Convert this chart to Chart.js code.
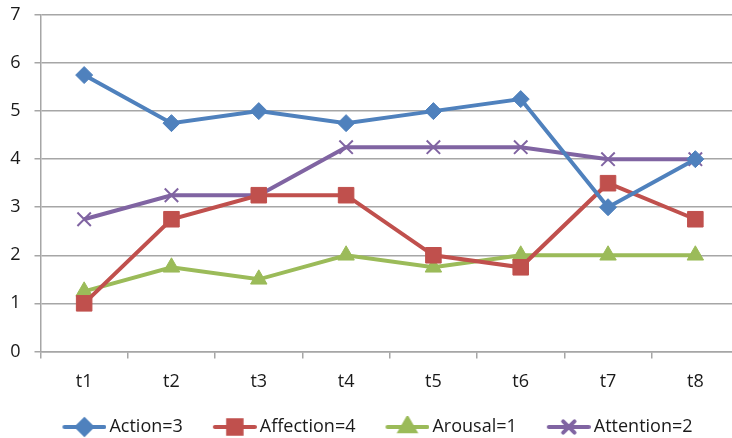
<!DOCTYPE html>
<html>
<head>
<meta charset="UTF-8">
<title>Chart</title>
<style>
  html, body { margin: 0; padding: 0; background: #fff; overflow: hidden; }
  #wrap { width: 751px; height: 438px; }
</style>
</head>
<body>
<div id="wrap"><canvas id="myChart"></canvas></div>
<script src="https://cdn.jsdelivr.net/npm/chart.js"></script>
<script>
const categories = ['t1', 't2', 't3', 't4', 't5', 't6', 't7', 't8']
const action = [5.75, 4.75, 5, 4.75, 5, 5.25, 3, 4]
const affection = [1, 2.75, 3.25, 3.25, 2, 1.75, 3.5, 2.75]
const arousal = [1.25, 1.75, 1.5, 2, 1.75, 2, 2, 2]
const attention = [2.75, 3.25, 3.25, 4.25, 4.25, 4.25, 4, 4]
const seriesNames = ['Action=3', 'Affection=4', 'Arousal=1', 'Attention=2']
const yTicks = [0, 1, 2, 3, 4, 5, 6, 7]

const colors = ['#4F81BD', '#C0504D', '#9BBB59', '#8064A2']
const styles = ['rectRot', 'rect', 'triangle', 'crossRot']
const radii = [8.5, 11, 9.5, 9.5]
const legendRadii = [7.5, 9.5, 8.5, 8]

// legend swatch: short line with the marker on it (left part left blank for spacing)
function swatch(i) {
  const c = document.createElement('canvas')
  c.width = 68; c.height = 22
  const g = c.getContext('2d')
  g.strokeStyle = colors[i]; g.lineWidth = 4; g.lineCap = 'round'
  g.beginPath(); g.moveTo(26, 11); g.lineTo(66, 11); g.stroke()
  g.fillStyle = colors[i]
  Chart.helpers.drawPoint(g, { pointStyle: styles[i], radius: legendRadii[i], borderWidth: 2 }, 46, 11)
  if (styles[i] !== 'crossRot') g.fill()
  return c
}

const data = [action, affection, arousal, attention]
new Chart(document.getElementById('myChart'), {
  type: 'line',
  data: {
    labels: categories,
    datasets: data.map((d, i) => ({
      label: seriesNames[i],
      data: d,
      borderColor: colors[i],
      backgroundColor: colors[i],
      borderWidth: 4,
      pointStyle: styles[i],
      pointRadius: radii[i],
      pointBorderWidth: styles[i] === 'crossRot' ? 2 : 1,
      tension: 0
    }))
  },
  options: {
    responsive: true,
    maintainAspectRatio: false,
    animation: false,
    layout: { padding: { top: 0, right: 0, left: -14, bottom: -8 } },
    scales: {
      x: {
        offset: true,
        grid: { offset: true, drawOnChartArea: false, drawTicks: true, tickLength: 7, color: '#A6A6A6', lineWidth: 1.5 },
        border: { color: '#A6A6A6', width: 1.5 },
        ticks: { color: '#1a1a1a', font: { family: 'Open Sans', size: 18 }, padding: 13 }
      },
      y: {
        min: 0, max: 7,
        afterBuildTicks: s => { s.ticks = yTicks.map(v => ({ value: v })) },
        afterFit: s => { s.width = 54.5; s.paddingTop = 15 },
        grid: { color: '#A6A6A6', lineWidth: 1.5, tickLength: 6 },
        border: { color: '#A6A6A6', width: 1.5 },
        ticks: { color: '#1a1a1a', font: { family: 'Open Sans', size: 18 }, padding: 14 }
      }
    },
    plugins: {
      legend: {
        position: 'bottom',
        labels: {
          usePointStyle: true,
          pointStyleWidth: 56,
          color: '#1a1a1a',
          font: { family: 'Open Sans', size: 18 },
          padding: 12,
          generateLabels: chart => chart.data.datasets.map((ds, i) => ({
            text: ds.label,
            pointStyle: swatch(i),
            datasetIndex: i,
            fontColor: '#1a1a1a',
            hidden: false,
            lineWidth: 0
          }))
        }
      },
      tooltip: { enabled: false }
    }
  }
})
</script>
</body>
</html>
